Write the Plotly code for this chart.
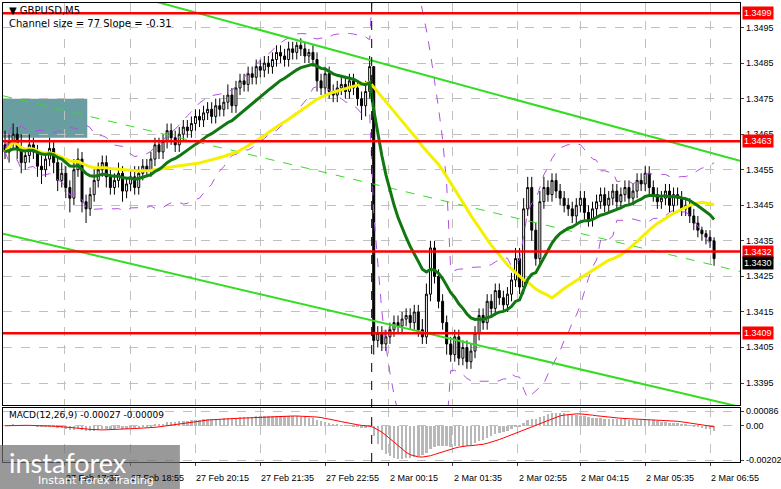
import numpy as np
import pandas as pd
import plotly.graph_objects as go

# -----------------------------
# data (pips above 1.3400, 5-minute bars from 27 Feb 16:25)
# -----------------------------
closes = [60, 63, 65, 61, 57, 59, 62, 60, 56,
          55, 58, 61, 57, 52, 54, 50, 47, 55, 58, 46, 44,
          48, 52, 55, 57, 53, 50, 52, 54, 49, 51, 53, 50, 54, 56, 55,
          58, 62, 60, 63, 66, 64, 62, 65, 67, 66, 68, 70, 69, 71, 72, 70, 73, 72,
          74, 76, 73, 78, 80, 79, 82, 81, 84, 83, 85, 84, 86, 88, 87, 86, 89, 88,
          90, 89, 87, 88, 86, 80, 78, 82, 77, 76, 78, 79, 77, 80, 78, 75, 73, 77, 84,
          7,
          9, 6, 8, 10, 12, 11, 13, 14, 12, 15, 10, 8, 20, 33, 25, 18, 12,
          6, 3, 8, 2, 5, 1, 4, 9, 14, 12, 18, 16, 21, 19, 17,
          20, 24, 30, 22, 44, 50, 38, 30, 46, 50, 48, 52, 49, 47, 45,
          44, 42, 45, 47, 43, 41, 44, 46, 48, 45, 47, 49, 46, 48, 50, 47, 49, 52, 51, 54,
          50, 48, 46, 47, 49, 45, 48, 47, 44, 45, 42, 40, 38, 37, 36, 35, 30]
first_open = 62
wick_up = [4, 2, 3, 2, 4, 2, 3, 2, 2,
           3, 2, 3, 2, 2, 3, 2, 2, 3, 3, 2, 2,
           2, 3, 2, 2, 2, 2, 2, 3, 2, 2, 2, 3, 2, 2, 2,
           2, 2, 2, 2, 2, 2, 2, 2, 2, 2, 2, 2, 2, 2, 2, 2, 2, 2,
           2, 3, 2, 2, 2, 2, 2, 2, 2, 2, 2, 2, 2, 2, 2, 2, 2, 2,
           1, 2, 2, 1, 2, 2, 2, 2, 2, 2, 2, 2, 2, 2, 2, 2, 2, 3, 3,
           0,
           2, 2, 2, 2, 2, 2, 2, 2, 2, 2, 2, 3, 3, 2, 2, 2, 2,
           2, 2, 2, 2, 2, 2, 2, 2, 2, 2, 2, 2, 2, 2, 2,
           2, 2, 3, 3, 3, 3, 3, 2, 3, 3, 2, 2, 2, 2, 2,
           2, 2, 2, 2, 2, 2, 2, 2, 2, 2, 2, 2, 2, 2, 2, 2, 2, 2, 2, 2,
           2, 2, 2, 2, 2, 2, 2, 2, 2, 2, 2, 2, 2, 1, 1, 2, 1]
wick_dn = [2, 3, 2, 3, 3, 2, 2, 2, 3,
           4, 2, 2, 3, 3, 2, 3, 4, 2, 2, 3, 4,
           2, 2, 2, 2, 3, 2, 2, 2, 3, 2, 2, 2, 2, 2, 2,
           2, 2, 2, 2, 2, 2, 2, 2, 2, 2, 2, 2, 2, 2, 2, 2, 2, 2,
           2, 2, 2, 2, 2, 2, 2, 2, 2, 2, 2, 2, 2, 2, 2, 2, 2, 2,
           2, 2, 2, 2, 2, 3, 2, 2, 2, 2, 2, 2, 2, 2, 2, 2, 4, 3, 2,
           4,
           2, 2, 2, 2, 2, 2, 2, 2, 2, 2, 2, 2, 2, 2, 2, 2, 2,
           3, 2, 2, 2, 2, 2, 2, 2, 2, 2, 2, 2, 2, 2, 2,
           2, 2, 2, 2, 2, 2, 3, 2, 2, 2, 2, 2, 2, 2, 2,
           2, 2, 2, 2, 2, 2, 2, 2, 2, 2, 2, 2, 2, 2, 2, 2, 2, 2, 2, 2,
           2, 2, 2, 2, 2, 2, 2, 2, 2, 2, 2, 2, 2, 2, 2, 2, 2]

tick_bars = [-0.7, 14.8, 30.9, 47, 63, 79, 94.7, 110.5, 126.5, 142, 158, 174]
tick_text = ['27 Feb 2026', '27 Feb 17:35', '27 Feb 18:55', '27 Feb 20:15', '27 Feb 21:35',
             '27 Feb 22:55', '2 Mar 00:15', '2 Mar 01:35', '2 Mar 02:55', '2 Mar 04:15',
             '2 Mar 05:35', '2 Mar 06:55']

levels = [1.3499, 1.3463, 1.3432, 1.3409]
last_price = 1.3430
price_ticks = [1.3495, 1.3485, 1.3475, 1.3465, 1.3455, 1.3445, 1.3435, 1.3425, 1.3415, 1.3405, 1.3395]
macd_ticks = [0.00086, 0.0, -0.00202]
macd_tick_text = ['0.00086', '0.00', '-0.00202']

chan_x = [-0.5, 181.4]
chan_upper = [1.35140, 1.34575]
chan_lower = [1.34370, 1.33883]
chan_mid = [1.34758, 1.34264]

zone_bars = [-0.5, 20.3]
zone_prices = [1.3464, 1.3475]
weekend_bar = 90.5

# -----------------------------
# series
# -----------------------------
c = pd.Series(closes, dtype=float) / 10000 + 1.34
o = pd.Series([first_open] + closes[:-1], dtype=float) / 10000 + 1.34
h = np.maximum(o, c) + np.array(wick_up) / 10000
l = np.minimum(o, c) - np.array(wick_dn) / 10000
x = np.arange(len(c))

ma_green = c.ewm(span=18, adjust=False).mean()
ma_yellow = c.rolling(45, min_periods=1).mean()
bb_mid = c.rolling(20, min_periods=1).mean()
bb_sd = c.rolling(20, min_periods=2).std().fillna(0)
ema12 = c.ewm(span=12, adjust=False).mean()
ema26 = c.ewm(span=26, adjust=False).mean()
macd = ema12 - ema26
signal = macd.rolling(9, min_periods=1).mean()

fig = go.Figure()
fig.add_trace(go.Scatter(x=x, y=bb_mid + 2 * bb_sd, mode='lines', line=dict(color='#b050e0', width=1, dash='dash')))
fig.add_trace(go.Scatter(x=x, y=bb_mid - 2 * bb_sd, mode='lines', line=dict(color='#b050e0', width=1, dash='dash')))
fig.add_trace(go.Scatter(x=chan_x, y=chan_upper, mode='lines', line=dict(color='#33dd22', width=2)))
fig.add_trace(go.Scatter(x=chan_x, y=chan_lower, mode='lines', line=dict(color='#33dd22', width=2)))
fig.add_trace(go.Scatter(x=chan_x, y=chan_mid, mode='lines', line=dict(color='#33dd22', width=1, dash='dash')))
fig.add_trace(go.Candlestick(x=x, open=o, high=h, low=l, close=c, whiskerwidth=0,
                             increasing=dict(fillcolor='white', line=dict(color='black', width=1)),
                             decreasing=dict(fillcolor='black', line=dict(color='black', width=1))))
fig.add_trace(go.Scatter(x=x, y=ma_yellow, mode='lines', line=dict(color='#f5f000', width=3)))
fig.add_trace(go.Scatter(x=x, y=ma_green, mode='lines', line=dict(color='#117711', width=3)))

fig.add_trace(go.Bar(x=x, y=macd, marker=dict(color='#b8b8b8', line=dict(width=0)), width=0.6,
                     xaxis='x2', yaxis='y2'))
fig.add_trace(go.Scatter(x=x, y=signal, mode='lines', line=dict(color='red', width=1),
                         xaxis='x2', yaxis='y2'))

lab_font = dict(size=9, color='black', family='Liberation Sans')

# right-hand price scale labels
for pt in price_ticks:
    fig.add_annotation(xref='paper', yref='y', x=1.0, y=pt, text=f'{pt:.4f}', showarrow=False,
                       xanchor='left', xshift=4, font=lab_font)
for mt, mtt in zip(macd_ticks, macd_tick_text):
    fig.add_annotation(xref='paper', yref='y2', x=1.0, y=mt, text=mtt, showarrow=False,
                       xanchor='left', xshift=4, font=lab_font)

# support / resistance levels
for lv in levels:
    fig.add_shape(type='line', xref='x', yref='y', x0=-0.5, x1=181.4, y0=lv, y1=lv,
                  line=dict(color='red', width=2.5))
    fig.add_annotation(xref='paper', yref='y', x=1.0, y=lv, text=f'{lv:.4f}', showarrow=False,
                       xanchor='left', xshift=2, bgcolor='red', borderpad=1,
                       font=dict(color='white', size=9, family='Liberation Sans'))
fig.add_annotation(xref='paper', yref='y', x=1.0, y=last_price, text=f'{last_price:.4f}', showarrow=False,
                   xanchor='left', xshift=2, yshift=-4, bgcolor='black', borderpad=1,
                   font=dict(color='white', size=9, family='Liberation Sans'))

fig.add_shape(type='rect', xref='x', yref='y', x0=zone_bars[0], x1=zone_bars[1],
              y0=zone_prices[0], y1=zone_prices[1], fillcolor='#4e8c92', opacity=0.85, line_width=0, layer='below')
fig.add_shape(type='line', xref='x', yref='paper', x0=weekend_bar, x1=weekend_bar, y0=0, y1=1,
              line=dict(color='black', width=1, dash='dash'))

# time labels, left-aligned at their grid line
for tb, tt in zip(tick_bars, tick_text):
    fig.add_annotation(xref='x', yref='paper', x=tb, y=-0.02, text=tt, showarrow=False,
                       xanchor='left', yanchor='top', xshift=-1, font=dict(size=9, color='black'))

# watermark
fig.add_shape(type='rect', xref='paper', yref='paper', x0=-0.007, x1=0.24, y0=0.037, y1=-0.062,
              fillcolor='rgba(110,110,110,0.7)', line_width=0)
fig.add_annotation(xref='paper', yref='paper', x=0.006, y=0.0, text='instaforex', showarrow=False,
                   xanchor='left', yanchor='middle', font=dict(color='white', size=27, family='Lato'))
fig.add_annotation(xref='paper', yref='paper', x=0.045, y=-0.058, text='Instant Forex Trading', showarrow=False,
                   xanchor='left', yanchor='bottom', font=dict(color='white', size=11, family='DejaVu Sans'))

fig.add_annotation(xref='paper', yref='paper', x=0.005, y=1.0, yanchor='top', xanchor='left', showarrow=False,
                   text='\u25bc GBPUSD,M5<br>Channel size = 77 Slope = -0.31', align='left',
                   font=dict(size=10, color='black', family='DejaVu Sans'))
fig.add_annotation(xref='paper', yref='paper', x=0.005, y=0.118, yanchor='top', xanchor='left', showarrow=False,
                   text='MACD(12,26,9) -0.00027 -0.00009', font=dict(size=9, color='black', family='DejaVu Sans'))

grid = dict(showgrid=True, gridcolor='#c0c0c0', griddash='dash', gridwidth=1)
fig.update_layout(
    width=781, height=489, margin=dict(l=3, r=41, t=3, b=27),
    paper_bgcolor='white', plot_bgcolor='white', showlegend=False, bargap=0,
    font=dict(family='Liberation Sans', size=9, color='black'),
    xaxis=dict(range=[-0.5, 181.4], domain=[0, 1], showticklabels=False, tickvals=tick_bars,
               rangeslider=dict(visible=False), anchor='y', mirror=True, showline=True,
               linecolor='black', zeroline=False, **grid),
    yaxis=dict(domain=[0.124, 1], range=[1.33888, 1.35019], side='right', tickvals=price_ticks,
               showticklabels=False, mirror=True, showline=True, linecolor='black', zeroline=False,
               ticks='outside', ticklen=3, **grid),
    xaxis2=dict(range=[-0.5, 181.4], domain=[0, 1], anchor='y2', tickvals=tick_bars, showticklabels=False,
                mirror=True, showline=True, linecolor='black', zeroline=False, ticks='outside',
                ticklen=3, **grid),
    yaxis2=dict(domain=[0, 0.118], range=[-0.00212, 0.00105], side='right', tickvals=macd_ticks,
                showticklabels=False, mirror=True, showline=True, linecolor='black', zeroline=False,
                ticks='outside', ticklen=3, **grid),
)
fig.write_html('out.html', config={'displayModeBar': False},
               post_script="document.body.style.margin='0';")
